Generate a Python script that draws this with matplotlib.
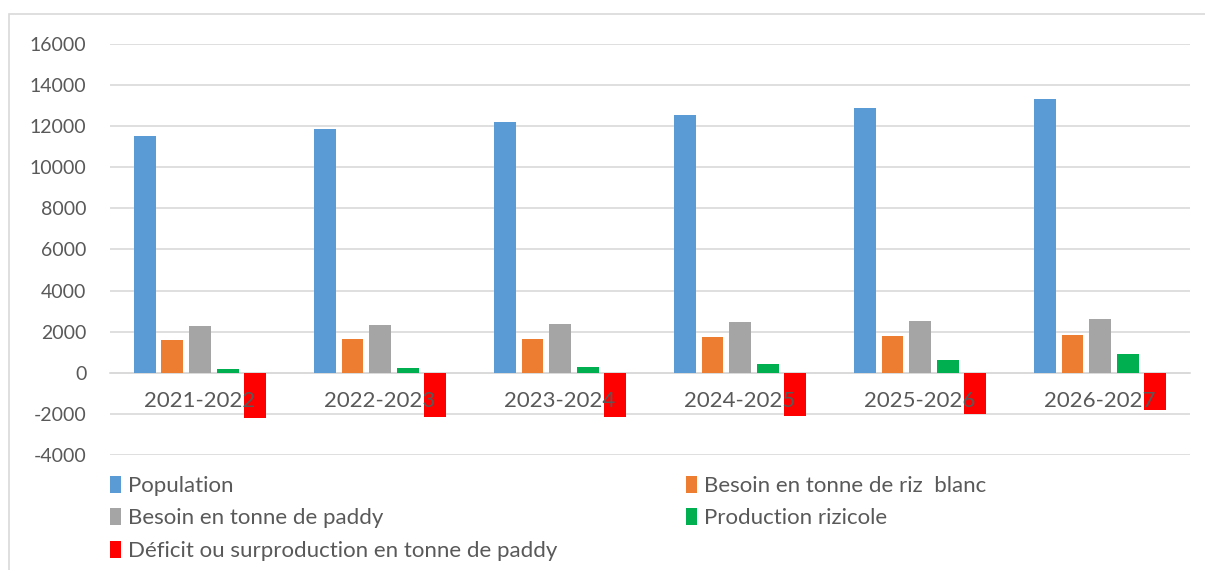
import numpy as np
import matplotlib.pyplot as plt
from matplotlib.patches import Rectangle

plt.rcParams['font.family'] = ['Lato', 'DejaVu Sans']
plt.rcParams['axes.unicode_minus'] = False

# Données
campagnes = ['2021-2022', '2022-2023', '2023-2024', '2024-2025', '2025-2026', '2026-2027']
population = [11500, 11850, 12200, 12540, 12900, 13320]
besoin_riz_blanc = [1580, 1620, 1660, 1720, 1770, 1820]
besoin_paddy = [2260, 2310, 2370, 2470, 2540, 2610]
production = [170, 210, 300, 440, 600, 930]
deficit = [-2190, -2170, -2160, -2120, -2000, -1790]

series = [
    ('Population', population, '#5B9BD5'),
    ('Besoin en tonne de riz  blanc', besoin_riz_blanc, '#ED7D31'),
    ('Besoin en tonne de paddy', besoin_paddy, '#A5A5A5'),
    ('Production rizicole', production, '#00B050'),
    ('Déficit ou surproduction en tonne de paddy', deficit, '#FF0000'),
]

fig = plt.figure(figsize=(12.05, 5.7), dpi=100)
ax = fig.add_axes([0.0913, 0.2018, 0.8963, 0.7210])

# cadre du graphique
fig.patches.append(Rectangle((0.0075, -0.1), 1.1, 1.0754, transform=fig.transFigure,
                             fill=False, edgecolor='#D9D9D9', linewidth=1.2))

x = np.arange(len(campagnes))
stride = 0.153
width = 0.122
handles = {}
for i, (label, values, color) in enumerate(series):
    bars = ax.bar(x + (i - 2) * stride, values, width, color=color, label=label, zorder=3)
    handles[label] = bars

ax.set_xlim(-0.5, len(campagnes) - 0.5)
ax.set_ylim(-4000, 16000)
ax.set_yticks(range(-4000, 16001, 2000))
ax.grid(axis='y', color='#D9D9D9', linewidth=1.2, zorder=0)
ax.set_axisbelow(True)
# les étiquettes des campagnes passent au-dessus des barres, comme dans Excel
ax.xaxis.set_zorder(4)

for side in ['top', 'right', 'left']:
    ax.spines[side].set_visible(False)
ax.spines['bottom'].set_position(('data', 0))
ax.spines['bottom'].set_color('#D9D9D9')
ax.spines['bottom'].set_linewidth(1.2)
ax.spines['bottom'].set_zorder(2)

ax.set_xticks(x)
ax.set_xticklabels(campagnes)
ax.tick_params(axis='x', length=0, pad=13, labelsize=16, labelcolor='#595959')
ax.tick_params(axis='y', length=0, pad=17, labelsize=14, labelcolor='#595959')

order = ['Population', 'Besoin en tonne de paddy', 'Déficit ou surproduction en tonne de paddy',
         'Besoin en tonne de riz  blanc', 'Production rizicole']
leg = fig.legend([handles[k] for k in order], order, ncol=2, loc='upper left',
                 bbox_to_anchor=(0.082, 0.185), frameon=False, fontsize=16,
                 handlelength=0.5, handleheight=0.8, handletextpad=0.3,
                 columnspacing=5.8, labelspacing=0.55, borderpad=0)
for t in leg.get_texts():
    t.set_color('#595959')

fig.savefig('out.png', dpi=100)
